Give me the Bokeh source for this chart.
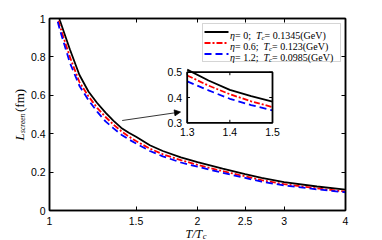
import numpy as np
from bokeh.plotting import figure
from bokeh.layouts import column, row
from bokeh.models import (Range1d, LogScale, LinearScale, LinearAxis, FixedTicker, Label,
                          BoxAnnotation, Arrow, NormalHead)
from bokeh.embed import file_html
from bokeh.resources import INLINE
from bokeh.core.properties import value

# ---------------- data ----------------
T = [1.0, 1.05, 1.1, 1.15, 1.2, 1.25, 1.3, 1.35, 1.4, 1.45, 1.5, 1.6, 1.7, 1.85,
     2.0, 2.25, 2.5, 2.7, 3.0, 3.5, 4.0]
L_eta0 = [1.20, 0.99, 0.84, 0.707, 0.62, 0.56, 0.51, 0.467, 0.43, 0.405, 0.384, 0.34,
          0.31, 0.277, 0.252, 0.218, 0.19, 0.17, 0.148, 0.125, 0.109]
L_eta06 = [1.17, 0.96, 0.80, 0.67, 0.595, 0.535, 0.487, 0.447, 0.413, 0.385, 0.362, 0.322,
           0.293, 0.262, 0.238, 0.205, 0.178, 0.158, 0.137, 0.115, 0.099]
L_eta12 = [1.15, 0.94, 0.77, 0.65, 0.575, 0.515, 0.464, 0.428, 0.395, 0.370, 0.349, 0.31,
           0.282, 0.25, 0.228, 0.196, 0.170, 0.150, 0.131, 0.110, 0.095]
eta_values = ["0", "0.6", "1.2"]
Tc_values = ["0.1345", "0.123", "0.0985"]

x_ticks = [1, 1.5, 2, 2.5, 3, 4]
x_tick_labels = ["1", "1.5", "2", "2.5", "3", "4"]
y_ticks = [0, 0.2, 0.4, 0.6, 0.8, 1]
y_tick_labels = ["0", "0.2", "0.4", "0.6", "0.8", "1"]
inset_x_ticks = [1.3, 1.4, 1.5]
inset_x_tick_labels = ["1.3", "1.4", "1.5"]
inset_y_ticks = [0.3, 0.4, 0.5]
inset_y_tick_labels = ["0.3", "0.4", "0.5"]

colors = ["black", "#ff0000", "#0000ff"]
dashes = ["solid", "6 2 2 2", "7 4"]
series = [L_eta0, L_eta06, L_eta12]

# ---------------- layout helpers (page pixels; canvas starts at 0,0) ----------------
W, H = 382, 240
FX0, FX1, FY0, FY1 = 49, 345, 18, 210   # frame in page pixels
def fx(px):
    return (px - FX0) / (FX1 - FX0)
def fy(py):
    return (FY1 - py) / (FY1 - FY0)

SERIF = "Liberation Serif"
SANS = "Liberation Sans"
WID = {" ": .25, "=": .564, ".": .25, ";": .278, "(": .333, ")": .333, "G": .722,
       "e": .444, "V": .722, "T": .556, "c": .444, "η": .5, "/": .278}
def tw(s, size):
    return sum(WID.get(ch, .5) for ch in s) * size

p = figure(width=W, height=H, output_backend="svg", toolbar_location=None,
           x_range=Range1d(0, 1), y_range=Range1d(0, 1),
           x_axis_type=None, y_axis_type=None,
           min_border_left=FX0, min_border_right=W - FX1,
           min_border_top=FY0, min_border_bottom=H - FY1)
p.extra_x_ranges = {"T": Range1d(x_ticks[0], x_ticks[-1])}
p.extra_x_scales = {"T": LogScale()}
p.outline_line_color = "black"
p.outline_line_width = 1.5
p.background_fill_color = "white"
p.border_fill_color = "white"

def style_axis(ax):
    ax.axis_line_width = 1.5
    ax.axis_line_color = "black"
    ax.major_tick_in = 4
    ax.major_tick_out = 0
    ax.minor_tick_in = 0
    ax.minor_tick_out = 0
    ax.major_tick_line_width = 1
    ax.major_label_text_font = SANS
    ax.major_label_text_font_size = "10.5px"
    ax.major_label_text_color = "black"
    ax.major_label_standoff = 6

for loc in ["below", "above"]:
    ax = LinearAxis(x_range_name="T", ticker=FixedTicker(ticks=x_ticks))
    style_axis(ax)
    if loc == "below":
        ax.major_label_overrides = dict(zip(x_ticks, x_tick_labels))
    else:
        ax.major_label_overrides = {t: "" for t in x_ticks}
    p.add_layout(ax, loc)
for loc in ["left", "right"]:
    ax = LinearAxis(ticker=FixedTicker(ticks=y_ticks))
    style_axis(ax)
    ax.major_label_standoff = 4
    if loc == "left":
        ax.major_label_overrides = dict(zip(y_ticks, y_tick_labels))
    else:
        ax.major_label_overrides = {t: "" for t in y_ticks}
    p.add_layout(ax, loc)

# ---------------- main curves ----------------
for ys, c, d in zip(series, colors, dashes):
    p.line(T, ys, x_range_name="T", line_color=c, line_width=1.8, line_dash=d)

# ---------------- inset ----------------
ins = p.subplot(x_source=Range1d(inset_x_ticks[0], inset_x_ticks[-1]),
                y_source=Range1d(inset_y_ticks[0], inset_y_ticks[-1]),
                x_scale=LogScale(), y_scale=LinearScale(),
                x_target=Range1d(fx(186.7), fx(272)),
                y_target=Range1d(fy(122.3), fy(71.7)))
xl, xr = inset_x_ticks[0], inset_x_ticks[-1]
yb, yt = inset_y_ticks[0], inset_y_ticks[-1]
ins.quad(left=[xl], right=[xr], bottom=[yb], top=[yt], fill_color="white", line_color=None)
Tarr = np.array(T)
mask = (Tarr >= xl - 1e-9) & (Tarr <= xr + 1e-9)
for ys, c, d in zip(series, colors, dashes):
    ins.line(Tarr[mask], np.array(ys)[mask], line_color=c, line_width=1.8, line_dash=d)
dy_t = (yt - yb) * 3 / 50.6
fx_t = (xr / xl) ** (3 / 85.3)
ins.segment(x0=inset_x_ticks, y0=[yb] * 3, x1=inset_x_ticks, y1=[yb + dy_t] * 3, line_color="black", line_width=1)
ins.segment(x0=inset_x_ticks, y0=[yt] * 3, x1=inset_x_ticks, y1=[yt - dy_t] * 3, line_color="black", line_width=1)
ins.segment(x0=[xl] * 3, y0=inset_y_ticks, x1=[xl * fx_t] * 3, y1=inset_y_ticks, line_color="black", line_width=1)
ins.segment(x0=[xr] * 3, y0=inset_y_ticks, x1=[xr / fx_t] * 3, y1=inset_y_ticks, line_color="black", line_width=1)
ins.quad(left=[xl], right=[xr], bottom=[yb], top=[yt], fill_color=None, line_color="black", line_width=1.8)
ins.text(x=inset_x_ticks, y=[yb] * 3, text=inset_x_tick_labels, text_align="center",
         text_baseline="top", y_offset=5, text_font=value(SANS), text_font_size="10.5px",
         text_color="black")
ins.text(x=[xl] * 3, y=inset_y_ticks, text=inset_y_tick_labels, text_align="right",
         text_baseline="middle", x_offset=-5, text_font=value(SANS), text_font_size="10.5px",
         text_color="black")

p.add_layout(Arrow(x_start=fx(121.7), y_start=fy(120), x_end=fx(180), y_end=fy(111.5),
                   line_color="black", line_width=0.8,
                   end=NormalHead(size=6, fill_color="black", line_color="black", line_width=0.8)))

# ---------------- legend ----------------
p.add_layout(BoxAnnotation(left=fx(202), right=fx(340), top=fy(23), bottom=fy(61),
                           fill_color="white", fill_alpha=1, line_color="#333333",
                           line_width=0.7, level="underlay"))
rows = [31.5, 42.5, 53.5]
FS = 10
for i, (c, d) in enumerate(zip(colors, dashes)):
    ry = rows[i]
    p.segment(x0=[fx(204)], y0=[fy(ry)], x1=[fx(228)], y1=[fy(ry)], line_color=c,
              line_width=1.8, line_dash=d)
    x = 229.5
    pieces = [("η", "italic", FS, 0), (f" = {eta_values[i]}; ", "normal", FS, 0),
              ("T", "italic", FS, 0), ("c", "italic", 7, 2.5),
              (f" = {Tc_values[i]}(GeV)", "normal", FS, 0)]
    for s, st, size, sub in pieces:
        p.add_layout(Label(x=fx(x), y=fy(ry + 3.5 + sub), text=s, text_font=SERIF,
                           text_font_style=st, text_font_size=f"{size}px",
                           text_baseline="alphabetic", text_align="left", text_color="black"))
        x += tw(s, size)

# ---------------- axis titles: transparent overlay figures ----------------
def overlay(xr_, yr_, borders, margin):
    o = figure(width=W, height=H, output_backend="svg", toolbar_location=None,
               x_range=Range1d(*xr_), y_range=Range1d(*yr_),
               x_axis_type=None, y_axis_type=None,
               min_border_left=borders[0], min_border_right=borders[1],
               min_border_top=borders[2], min_border_bottom=borders[3])
    o.title.visible = False
    o.outline_line_color = None
    o.background_fill_alpha = 0
    o.border_fill_alpha = 0
    o.margin = margin
    return o

def olabel(o, px, py, text, size, style="italic", angle=0.0):
    o.add_layout(Label(x=px, y=py, text=text, angle=angle, text_font=SERIF,
                       text_font_style=style, text_font_size=f"{size}px",
                       text_baseline="alphabetic", text_align="left", text_color="black"))

# x title overlay: horizontal frame equals main frame, vertical = full canvas
ov_x = overlay((FX0, FX1), (H, 0), (FX0, W - FX1, 0, 0), (-H, 0, 0, 0))
xs = 185
olabel(ov_x, xs, 233.5, "T/T", 12)
olabel(ov_x, xs + tw("T/T", 12) + 0.5, 235.5, "c", 8.5)

# y title overlay: vertical frame equals main frame (measured horizontal shift compensated)
YT_SHIFT = -8
ov_y = overlay((0, W), (FY1, FY0), (0, 0, FY0, H - FY1), (0, 0, 0, -W))
olabel(ov_y, 27 + YT_SHIFT, 140, "L", 13, angle=np.pi / 2)
olabel(ov_y, 30 + YT_SHIFT, 132.5, "screen", 7.5, angle=np.pi / 2)
olabel(ov_y, 27 + YT_SHIFT, 111.5, "(fm)", 13, style="normal", angle=np.pi / 2)

layout = row(column(p, ov_x), ov_y)
open("out.html", "w").write(file_html(layout, INLINE))
